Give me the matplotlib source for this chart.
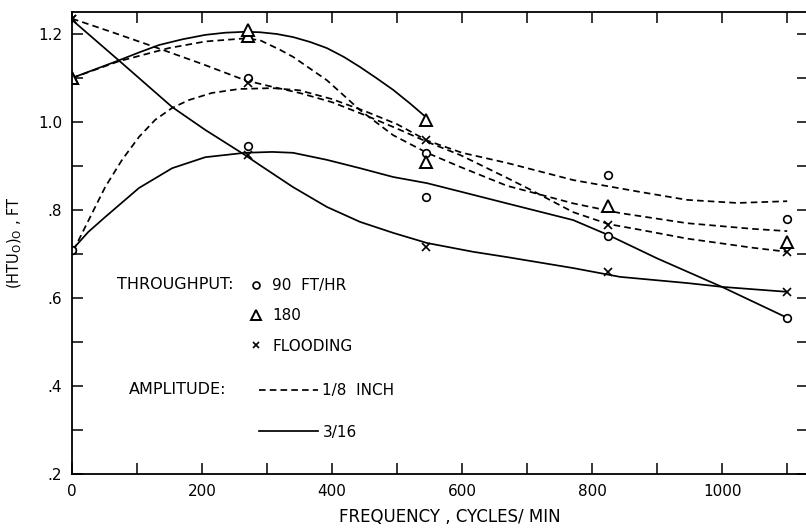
import matplotlib
matplotlib.use('Agg')
import matplotlib.pyplot as plt
from matplotlib.lines import Line2D

plt.rcParams['font.family'] = ['DejaVu Sans']
plt.rcParams['mathtext.fontset'] = 'dejavusans'

# smooth curves (frequency, HTU)
f_90_dash = [0, 5, 31, 51, 77, 103, 128, 154, 180, 215, 257, 308, 350, 400, 450, 500, 546, 600, 669, 771, 874, 946, 1023, 1100]
h_90_dash = [0.71, 0.716, 0.793, 0.852, 0.914, 0.966, 1.005, 1.032, 1.05, 1.066, 1.075, 1.077, 1.072, 1.052, 1.025, 0.995, 0.958, 0.93, 0.907, 0.868, 0.841, 0.823, 0.816, 0.82]

f_90_solid = [0, 25, 51, 103, 154, 205, 266, 308, 340, 392, 443, 494, 546, 597, 669, 771, 825, 900, 1000, 1100]
h_90_solid = [0.709, 0.75, 0.784, 0.85, 0.895, 0.92, 0.93, 0.932, 0.93, 0.914, 0.895, 0.875, 0.861, 0.842, 0.815, 0.777, 0.743, 0.69, 0.625, 0.555]

f_180_dash = [0, 72, 149, 205, 266, 289, 320, 340, 392, 443, 494, 546, 597, 669, 700, 771, 843, 946, 1048, 1100]
h_180_dash = [1.10, 1.138, 1.168, 1.183, 1.19, 1.186, 1.164, 1.148, 1.095, 1.027, 0.97, 0.93, 0.898, 0.855, 0.843, 0.815, 0.793, 0.77, 0.757, 0.752]

f_180_solid = [0, 36, 72, 103, 134, 170, 205, 236, 266, 289, 315, 340, 366, 392, 418, 443, 468, 494, 520, 546]
h_180_solid = [1.10, 1.12, 1.14, 1.158, 1.175, 1.188, 1.198, 1.203, 1.205, 1.204, 1.2, 1.193, 1.182, 1.168, 1.148, 1.125, 1.1, 1.073, 1.042, 1.009]

f_fl_dash = [0, 64, 128, 200, 266, 308, 350, 400, 450, 500, 546, 597, 669, 700, 771, 825, 874, 946, 1048, 1100]
h_fl_dash = [1.235, 1.203, 1.17, 1.132, 1.095, 1.08, 1.066, 1.045, 1.016, 0.985, 0.955, 0.925, 0.873, 0.85, 0.795, 0.768, 0.755, 0.735, 0.714, 0.705]

f_fl_solid = [0, 72, 154, 205, 266, 289, 340, 392, 443, 494, 546, 617, 669, 771, 843, 946, 1002, 1100]
h_fl_solid = [1.232, 1.14, 1.034, 0.982, 0.925, 0.902, 0.852, 0.807, 0.773, 0.748, 0.725, 0.705, 0.693, 0.668, 0.648, 0.634, 0.625, 0.614]

# measured points
f_pts = [0, 270, 545, 825, 1100]
pts_90_dash = [0.71, 1.10, 0.93, 0.88, 0.78]
pts_90_solid = [0.71, 0.945, 0.83, 0.74, 0.555]
pts_180_dash = [1.10, 1.195, 0.91, 0.81, 0.727]
pts_180_solid = [1.10, 1.21, 1.005]
pts_fl_dash = [1.235, 1.088, 0.96, 0.766, 0.704]
pts_fl_solid = [1.235, 0.925, 0.716, 0.66, 0.614]

x_ticks = [0, 200, 400, 600, 800, 1000]
x_minor = [100, 300, 500, 700, 900, 1100]
y_ticks = [0.2, 0.4, 0.6, 0.8, 1.0, 1.2]
y_ticklabels = ['.2', '.4', '.6', '.8', '1.0', '1.2']
y_minor = [0.3, 0.5, 0.7, 0.9, 1.1]

dash = (0, (3.8, 2.4))
lw = 1.25

fig = plt.figure(figsize=(8.06, 5.31), dpi=100)
ax = fig.add_axes([72/806, 57/531, 736/806, 462/531])

ax.plot(f_90_dash, h_90_dash, color='k', lw=lw, ls=dash)
ax.plot(f_180_dash, h_180_dash, color='k', lw=lw, ls=dash)
ax.plot(f_fl_dash, h_fl_dash, color='k', lw=lw, ls=dash)
ax.plot(f_90_solid, h_90_solid, color='k', lw=lw)
ax.plot(f_180_solid, h_180_solid, color='k', lw=lw)
ax.plot(f_fl_solid, h_fl_solid, color='k', lw=lw)

mk_o = dict(marker='o', ms=5.5, mfc='white', mec='k', mew=1.2, ls='none')
mk_t = dict(marker='^', ms=8, mfc='white', mec='k', mew=1.4, ls='none')
mk_x = dict(marker='x', ms=5.5, mec='k', mew=1.2, ls='none')

ax.plot(f_pts, pts_90_dash, **mk_o)
ax.plot(f_pts, pts_90_solid, **mk_o)
ax.plot(f_pts, pts_180_dash, **mk_t)
ax.plot(f_pts[:3], pts_180_solid, **mk_t)
ax.plot(f_pts, pts_fl_dash, **mk_x)
ax.plot(f_pts, pts_fl_solid, **mk_x)

ax.set_xlim(0, 1132)
ax.set_ylim(0.2, 1.25)
ax.set_xticks(x_ticks)
ax.set_xticks(x_minor, minor=True)
ax.set_yticks(y_ticks)
ax.set_yticklabels(y_ticklabels)
ax.set_yticks(y_minor, minor=True)
ax.tick_params(which='both', direction='in', length=8, width=1.1,
               top=True, right=True, labelsize=11, pad=7)
for s in ax.spines.values():
    s.set_linewidth(1.3)

ax.set_xlabel('FREQUENCY , CYCLES/ MIN', fontsize=12)
ax.xaxis.set_label_coords(0.514, -0.074)
ax.set_ylabel(r'(HTU$_\mathsf{O}$)$_\mathsf{O}$ , FT', fontsize=10.5, labelpad=10)

# throughput key
tp_handles = [Line2D([], [], **dict(mk_o, ms=5)),
              Line2D([], [], **dict(mk_t, ms=7)),
              Line2D([], [], **dict(mk_x, ms=5))]
leg1 = ax.legend(tp_handles, ['90  FT/HR', '180', 'FLOODING'], loc='upper left',
                 bbox_to_anchor=(0.239, 0.424), frameon=False, fontsize=11,
                 handlelength=1.0, handletextpad=0.6, labelspacing=1.0,
                 borderaxespad=0, borderpad=0)
ax.add_artist(leg1)
ax.text(69, 0.63, 'THROUGHPUT:', fontsize=11.5, va='center', ha='left')

# amplitude key
amp_handles = [Line2D([], [], color='k', lw=lw, ls=dash),
               Line2D([], [], color='k', lw=lw)]
ax.legend(amp_handles, ['1/8  INCH', '3/16'], loc='upper left',
          bbox_to_anchor=(0.254, 0.197), frameon=False, fontsize=11,
          handlelength=3.85, handletextpad=0.3, labelspacing=1.75,
          borderaxespad=0, borderpad=0)
ax.text(88, 0.391, 'AMPLITUDE:', fontsize=11.5, va='center', ha='left')

fig.savefig('out.png', dpi=100)
